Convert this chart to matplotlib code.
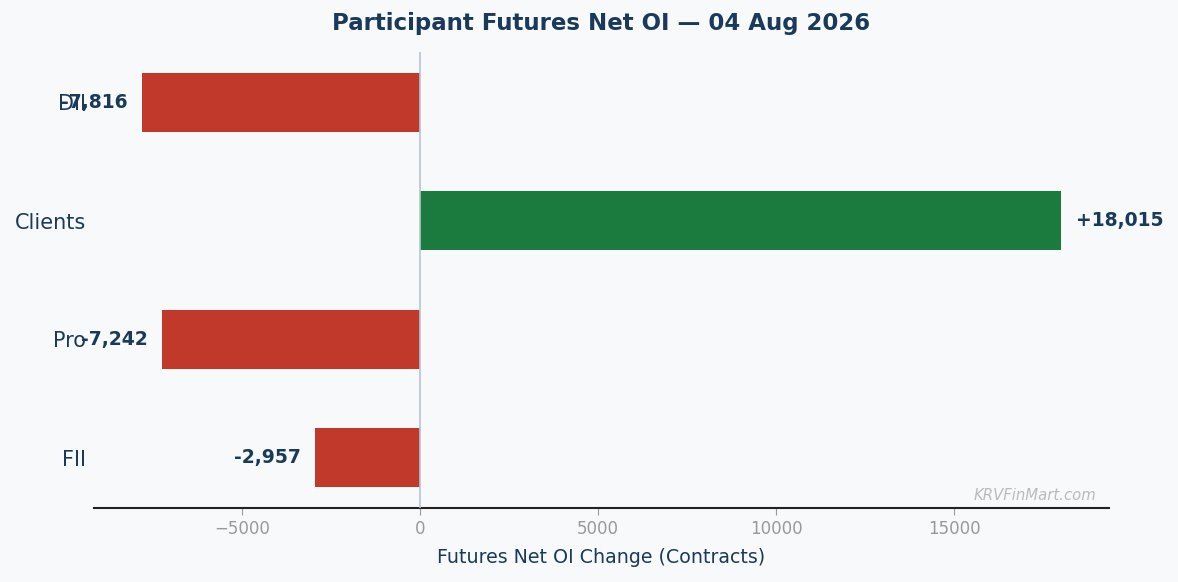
import matplotlib
matplotlib.use("Agg")
import matplotlib.pyplot as plt

categories = ["FII", "Pro", "Clients", "DII"]
values = [-2957, -7242, 18015, -7816]
title = "Participant Futures Net OI \u2014 04 Aug 2026"
xlabel = "Futures Net OI Change (Contracts)"
watermark = "KRVFinMart.com"

BG = "#f7f9fb"
NAVY = "#1a3a5c"
RED = "#c0392b"
GREEN = "#1b7a3d"

fig = plt.figure(figsize=(11.78, 5.82), dpi=100, facecolor=BG)
ax = fig.add_axes([0.0798, 0.127, 0.8616, 0.7837], facecolor=BG)

colors = [GREEN if v >= 0 else RED for v in values]
ax.barh(categories, values, height=0.5, color=colors, zorder=2)
ax.axvline(0, color="#b8c4d4", linewidth=1.2, zorder=3)

off = 400
for i, v in enumerate(values):
    txt = f"{v:+,}" if v > 0 else f"{v:,}"
    ax.text(v + (off if v >= 0 else -off), i, txt,
            ha="left" if v >= 0 else "right", va="center",
            fontsize=13.5, fontweight="bold", color=NAVY, zorder=4)

ax.set_xlim(-9160, 19350)
for s in ["top", "right", "left"]:
    ax.spines[s].set_visible(False)
ax.spines["bottom"].set_color("#222222")
ax.spines["bottom"].set_linewidth(1.5)

ax.tick_params(axis="y", length=0, labelsize=15, labelcolor=NAVY, pad=6)
ax.tick_params(axis="x", colors="#999999", labelsize=12, length=5)
ax.set_xticks([-5000, 0, 5000, 10000, 15000])
ax.set_xlabel(xlabel, fontsize=13.7, color=NAVY, labelpad=7)
ax.set_title(title, fontsize=16.5, fontweight="bold", color=NAVY, pad=16)

ax.text(0.988, 0.012, watermark, transform=ax.transAxes, ha="right", va="bottom",
        fontsize=10.7, style="italic", color="#bbbbbb")

fig.savefig("out.png", dpi=100, facecolor=BG)
